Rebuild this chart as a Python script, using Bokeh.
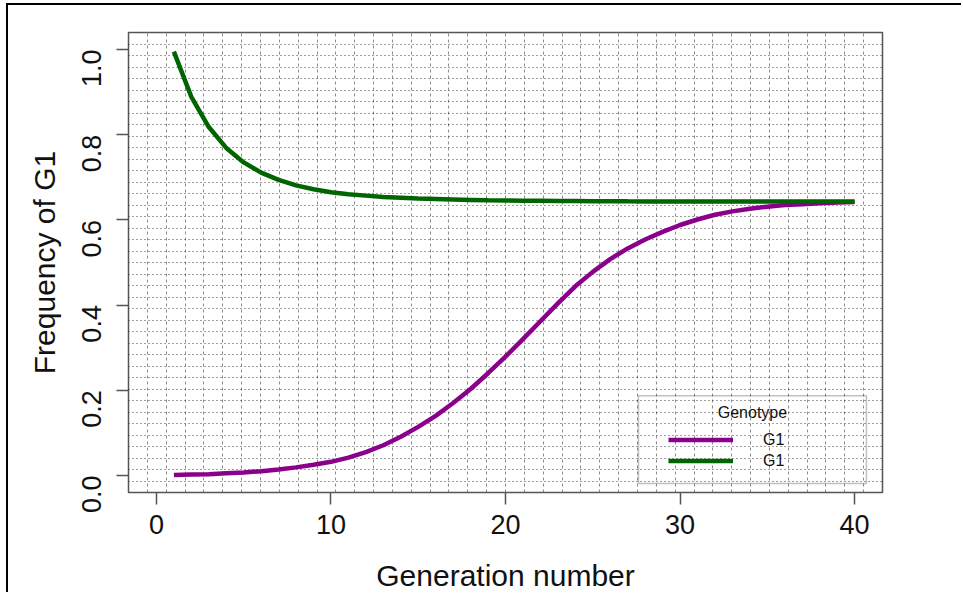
import math
from bokeh.plotting import figure
from bokeh.models import (Range1d, FixedTicker, Legend, LegendItem, BoxAnnotation,
                          Label, ColumnDataSource)
from bokeh.embed import file_html
from bokeh.resources import INLINE

# ---- data ----
generations = list(range(1, 41))
freq_rising = [0.001, 0.002, 0.003, 0.005, 0.007, 0.010, 0.014, 0.019, 0.025, 0.032,
               0.042, 0.055, 0.071, 0.091, 0.114, 0.140, 0.170, 0.203, 0.240, 0.279,
               0.320, 0.362, 0.404, 0.444, 0.478, 0.508, 0.533, 0.554, 0.572, 0.588,
               0.601, 0.612, 0.620, 0.626, 0.631, 0.635, 0.637, 0.639, 0.641, 0.642]
freq_falling = [0.995, 0.889, 0.818, 0.769, 0.735, 0.711, 0.694, 0.681, 0.672, 0.665,
                0.660, 0.657, 0.654, 0.652, 0.650, 0.649, 0.648, 0.647, 0.646, 0.6455,
                0.645, 0.6447, 0.6444, 0.6442, 0.644, 0.6438, 0.6436, 0.6435, 0.6434, 0.6433,
                0.6432, 0.6431, 0.6431, 0.6430, 0.6430, 0.6430, 0.6430, 0.6430, 0.6430, 0.6430]
series_labels = ["G1", "G1"]
legend_title = "Genotype"
x_ticks = [0, 10, 20, 30, 40]
y_ticks = [0.0, 0.2, 0.4, 0.6, 0.8, 1.0]
y_tick_labels = {0.0: "0.0", 0.2: "0.2", 0.4: "0.4", 0.6: "0.6", 0.8: "0.8", 1.0: "1.0"}

FONT = "Liberation Sans"
X0, X1 = -1.6, 41.6
Y0, Y1 = -0.04, 1.04

p = figure(width=955, height=589, output_backend="svg", toolbar_location=None,
           x_range=Range1d(X0, X1), y_range=Range1d(Y0, Y1),
           min_border_left=120, min_border_right=81, min_border_top=27, min_border_bottom=101,
           styles={"border-top": "2px solid #000", "border-left": "2px solid #000",
                   "margin-top": "3px", "margin-left": "6px"})
p.background_fill_color = "white"
p.border_fill_color = "white"
p.outline_line_color = "#555555"
p.outline_line_width = 1.5

# dense R-style grid: 40 cells in each direction
nx = ny = 40
p.xgrid.ticker = FixedTicker(ticks=[X0 + i * (X1 - X0) / nx for i in range(1, nx)])
p.ygrid.ticker = FixedTicker(ticks=[Y0 + i * (Y1 - Y0) / ny for i in range(1, ny)])
p.xgrid.grid_line_color = "#666666"
p.xgrid.grid_line_dash = "3 3"
p.xgrid.grid_line_width = 1
p.xgrid.grid_line_alpha = 0.75
p.ygrid.grid_line_color = "#222222"
p.ygrid.grid_line_dash = "1 3"
p.ygrid.grid_line_width = 1.2
p.ygrid.grid_line_alpha = 0.85

for ax in (p.xaxis[0], p.yaxis[0]):
    ax.axis_line_color = None
    ax.major_tick_line_color = "#555555"
    ax.major_tick_line_width = 1.5
    ax.major_tick_out = 12
    ax.major_tick_in = 0
    ax.minor_tick_line_color = None
    ax.major_label_text_font = FONT
    ax.major_label_text_font_size = "27px"
    ax.major_label_text_color = "#111111"
    ax.axis_label_text_font = FONT
    ax.axis_label_text_font_size = "30px"
    ax.axis_label_text_font_style = "normal"
    ax.axis_label_text_color = "#111111"

p.xaxis.ticker = FixedTicker(ticks=x_ticks)
p.yaxis.ticker = FixedTicker(ticks=y_ticks)
p.yaxis.major_label_overrides = y_tick_labels
p.yaxis.major_label_orientation = math.pi / 2
p.xaxis.axis_label = "Generation number"
p.yaxis.axis_label = "Frequency of G1"
p.xaxis.major_label_standoff = 10
p.xaxis.axis_label_standoff = 22
p.yaxis.major_label_standoff = 25
p.yaxis.axis_label_standoff = 9

src = ColumnDataSource(dict(g=generations, up=freq_rising, down=freq_falling))
r1 = p.line("g", "up", source=src, line_color="#8B008B", line_width=4.5)
r2 = p.line("g", "down", source=src, line_color="#006400", line_width=4.5)

# legend frame + title (R-style, centred title, transparent box)
p.add_layout(BoxAnnotation(left=27.62, right=40.68, bottom=-0.019, top=0.187,
                           fill_alpha=0, line_color="#333333", line_width=1.5))
p.add_layout(Label(x=34.15, y=0.147, text=legend_title, text_align="center",
                   text_baseline="middle", text_font=FONT, text_font_size="16px",
                   text_color="#111111"))
legend = Legend(items=[LegendItem(label=series_labels[0], renderers=[r1]),
                       LegendItem(label=series_labels[1], renderers=[r2])],
                location=(540, 21), padding=0, margin=0, spacing=0,
                glyph_width=65, glyph_height=21, label_height=21, label_standoff=30,
                label_text_font=FONT, label_text_font_size="16px",
                label_text_color="#111111",
                border_line_alpha=0, background_fill_alpha=0)
p.add_layout(legend, "center")

open("out.html", "w").write(file_html(p, INLINE))
